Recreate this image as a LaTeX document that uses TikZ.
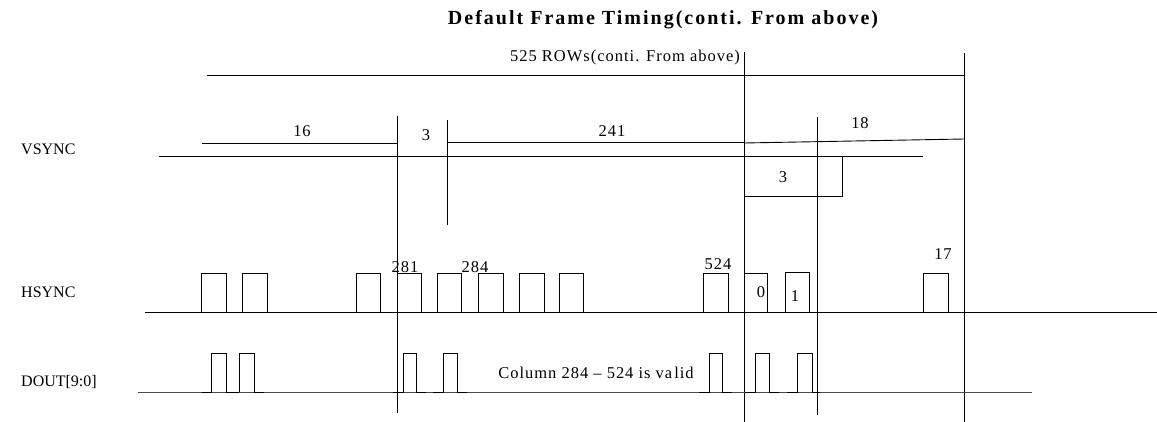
\documentclass[tikz,border=0pt]{standalone}
\usepackage{fontspec}
\setmainfont{Liberation Serif}
\newfontfamily\lblfont{Liberation Serif}[LetterSpace=6]
\newfontfamily\ttlfont{Liberation Serif}[LetterSpace=10]
\tikzset{tmline/.style={line width=0.9pt}}
\tikzset{baseline/.style={line width=0.9pt,black!70}}
\tikzset{tmpulse/.style={line width=0.9pt}}
\tikzset{tmlabel/.style={inner sep=0pt,
    font=\lblfont\fontsize{16.5}{18}\selectfont}}
\tikzset{signame/.style={inner sep=0pt,anchor=west,
    font=\fontsize{16}{18}\selectfont}}
\tikzset{tmtitle/.style={inner sep=0pt,
    font=\ttlfont\bfseries\fontsize{20}{22}\selectfont}}

\begin{document}
\begin{tikzpicture}[x=1pt,y=-1pt]

\useasboundingbox (0,0) rectangle (1157,422);

\pgfmathsetmacro{\vsY}{156}
\pgfmathsetmacro{\hsTop}{273}
\pgfmathsetmacro{\hsBase}{312}
\pgfmathsetmacro{\doTop}{353}
\pgfmathsetmacro{\doBase}{392}

% タイトル
\node[tmtitle] (title) at (663,20) {Default Frame Timing(conti. From above)};

% 信号名
\node[signame] (vsync) at (21,149) {VSYNC};
\node[signame] (hsync) at (21,292) {HSYNC};
\node[signame] (dout) at (21,382) {DOUT[9:0]};

% 525行の寸法線
\draw[tmline] (207,75) -- (965,75);
\node[tmlabel] (rows) at (625,58) {525 ROWs(conti. From above)};

% 縦の区切り線
\draw[tmline] (397,116) -- (397,413);
\draw[tmline] (447,120) -- (447,225);
\draw[tmline] (744,52) -- (744,422);
\draw[tmline] (817,117) -- (817,415);
\draw[tmline] (964,53) -- (964,422);

% 16, 3, 241, 18 の寸法線
\draw[tmline] (202,143) -- (397,143);
\node[tmlabel] (n16) at (302,131) {16};
\node[tmlabel] (n3a) at (426,135) {3};
\draw[tmline] (447,142) -- (744,142);
\node[tmlabel] (n241) at (612,131) {241};
\draw[tmline] (744,143) -- (964,139);
\node[tmlabel] (n18) at (860,123) {18};

% VSYNC
\draw[tmline] (159,\vsY) -- (923,\vsY);
\draw[tmline] (744,\vsY) -- (744,196) -- (842,196) -- (842,\vsY);
\node[tmlabel] (n3b) at (783,177) {3};

% HSYNC
\draw[tmline] (145,\hsBase) -- (1157,\hsBase);
\draw[tmpulse] (186,\hsBase) -- (201,\hsBase) -- (201,\hsTop) -- (226,\hsTop) -- (226,\hsBase) -- (242,\hsBase);
\draw[tmpulse] (242,\hsBase) -- (242,\hsTop) -- (267,\hsTop) -- (267,\hsBase) -- (282,\hsBase);
\draw[tmpulse] (340,\hsBase) -- (356,\hsBase) -- (356,\hsTop) -- (380,\hsTop) -- (380,\hsBase) -- (397,\hsBase);
\draw[tmpulse] (397,\hsBase) -- (397,\hsTop) -- (421,\hsTop) -- (421,\hsBase) -- (437,\hsBase);
\draw[tmpulse] (437,\hsBase) -- (437,\hsTop) -- (461,\hsTop) -- (461,\hsBase) -- (478,\hsBase);
\draw[tmpulse] (478,\hsBase) -- (478,\hsTop) -- (503,\hsTop) -- (503,\hsBase) -- (519,\hsBase);
\draw[tmpulse] (519,\hsBase) -- (519,\hsTop) -- (544,\hsTop) -- (544,\hsBase) -- (559,\hsBase);
\draw[tmpulse] (559,\hsBase) -- (559,\hsTop) -- (583,\hsTop) -- (583,\hsBase) -- (598,\hsBase);
\draw[tmpulse] (688,\hsBase) -- (703,\hsBase) -- (703,\hsTop) -- (728,\hsTop) -- (728,\hsBase) -- (744,\hsBase);
\draw[tmpulse] (744,\hsBase) -- (744,\hsTop) -- (767,\hsTop) -- (767,\hsBase) -- (785,\hsBase);
\draw[tmpulse] (785,\hsBase) -- (785,272) -- (809,272) -- (809,\hsBase) -- (825,\hsBase);
\draw[tmpulse] (908,\hsBase) -- (923,\hsBase) -- (923,\hsTop) -- (948,\hsTop) -- (948,\hsBase) -- (963,\hsBase);
\node[tmlabel] (n281) at (405,267) {281};
\node[tmlabel] (n284) at (475,267) {284};
\node[tmlabel] (n524) at (718,264) {524};
\node[tmlabel] (n0) at (761,292) {0};
\node[tmlabel] (n1) at (795,296) {1};
\node[tmlabel] (n17) at (943,254) {17};

% DOUT[9:0]
\draw[baseline] (138,\doBase) -- (1032,\doBase);
\draw[tmpulse] (202,\doBase) -- (211,\doBase) -- (211,\doTop) -- (226,\doTop) -- (226,\doBase) -- (239,\doBase);
\draw[tmpulse] (239,\doBase) -- (239,\doTop) -- (254,\doTop) -- (254,\doBase) -- (264,\doBase);
\draw[tmpulse] (393,\doBase) -- (403,\doBase) -- (403,\doTop) -- (416,\doTop) -- (416,\doBase) -- (426,\doBase);
\draw[tmpulse] (433,\doBase) -- (443,\doBase) -- (443,\doTop) -- (457,\doTop) -- (457,\doBase) -- (467,\doBase);
\draw[tmpulse] (699,\doBase) -- (709,\doBase) -- (709,\doTop) -- (722,\doTop) -- (722,\doBase) -- (732,\doBase);
\draw[tmpulse] (745,\doBase) -- (755,\doBase) -- (755,\doTop) -- (769,\doTop) -- (769,\doBase) -- (779,\doBase);
\draw[tmpulse] (787,\doBase) -- (797,\doBase) -- (797,\doTop) -- (812,\doTop) -- (812,\doBase) -- (820,\doBase);
\node[tmlabel] (valid) at (596,373) {Column 284 – 524 is va\kern2pt lid};

\end{tikzpicture}
\end{document}
